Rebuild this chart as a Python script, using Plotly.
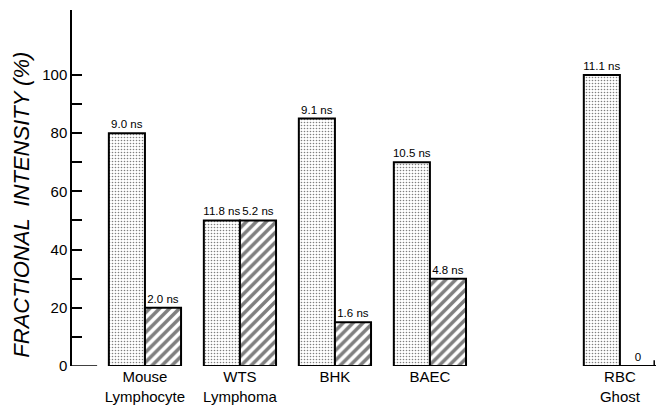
import plotly.graph_objects as go

# Cell types and their group positions on the x axis (slot 4 left empty)
categories = ["Mouse<br>Lymphocyte", "WTS<br>Lymphoma", "BHK", "BAEC", "RBC<br>Ghost"]
positions = [0, 1, 2, 3, 5]

# Fractional intensity (%) of the long- and short-lifetime components
long_frac = [80, 50, 85, 70, 100]
short_frac = [20, 50, 15, 30, 0]

# Lifetimes shown above each bar
long_lifetime = ["9.0 ns", "11.8 ns", "9.1 ns", "10.5 ns", "11.1 ns"]
short_lifetime = ["2.0 ns", "5.2 ns", "1.6 ns", "4.8 ns", "0"]

y_ticks = list(range(0, 101, 10))
y_ticktext = [str(v) if v % 20 == 0 else "" for v in y_ticks]

FONT = "Liberation Sans"
BW = 0.38

fig = go.Figure()

fig.add_trace(go.Bar(
    x=positions, y=long_frac, width=BW, offset=-BW,
    text=long_lifetime, textposition="outside", constraintext="none",
    textfont=dict(family=FONT, size=11.5, color="black"),
    marker=dict(color="white",
                line=dict(color="black", width=2),
                pattern=dict(shape=".", size=3, solidity=0.22,
                             fgcolor="black", bgcolor="white")),
    cliponaxis=False, showlegend=False,
))

fig.add_trace(go.Bar(
    x=positions, y=short_frac, width=BW, offset=0,
    text=short_lifetime, textposition="outside", constraintext="none",
    textfont=dict(family=FONT, size=11.5, color="black"),
    marker=dict(color="white",
                line=dict(color="black", width=2),
                pattern=dict(shape="/", size=7, solidity=0.5,
                             fgcolor="black", bgcolor="white")),
    cliponaxis=False, showlegend=False,
))

# Zero-height short component for RBC ghost: baseline stub with end tick
x_rbc = positions[-1]
fig.add_shape(type="line", xref="x", yref="y", x0=x_rbc, x1=x_rbc + BW * 0.95,
              y0=0, y1=0, line=dict(color="black", width=1.5))
fig.add_shape(type="line", xref="x", yref="y", x0=x_rbc + BW * 0.95, x1=x_rbc + BW * 0.95,
              y0=0, y1=2, line=dict(color="black", width=1.5))

# Short baseline segment next to the y axis
fig.add_shape(type="line", xref="paper", yref="y", x0=0, x1=0.043,
              y0=0, y1=0, line=dict(color="black", width=1.5))

# Y-axis title
fig.add_annotation(text="<i>FRACTIONAL  INTENSITY (%)</i>", textangle=-90,
                   xref="paper", yref="paper", x=-0.088, y=0.452,
                   showarrow=False, xanchor="center", yanchor="middle",
                   font=dict(family=FONT, size=22, color="black"))

fig.update_layout(
    width=656, height=406,
    margin=dict(l=72, r=0, t=10, b=40),
    paper_bgcolor="white", plot_bgcolor="white",
    barmode="overlay",
    font=dict(family=FONT, color="black"),
    xaxis=dict(range=[-0.768, 5.38], showgrid=False, zeroline=False, showline=False,
               tickvals=positions, ticktext=categories, ticks="",
               tickfont=dict(family=FONT, size=15, color="black")),
    yaxis=dict(range=[0, 122.3], showgrid=False, zeroline=False,
               showline=True, linecolor="black", linewidth=1.5,
               tickvals=y_ticks, ticktext=y_ticktext,
               ticks="inside", ticklen=10, tickwidth=1.5, tickcolor="black",
               tickfont=dict(family=FONT, size=15, color="black")),
)

fig.write_html("out.html")
